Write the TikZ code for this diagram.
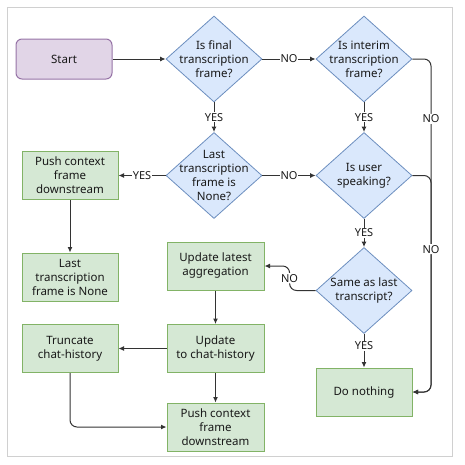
\documentclass[tikz,border=0pt]{standalone}
\usepackage{fontspec}
\setmainfont{Noto Sans}
\usetikzlibrary{arrows.meta,shapes.geometric}
\definecolor{bfill}{HTML}{DAE8FC}
\definecolor{bdraw}{HTML}{6C8EBF}
\definecolor{gfill}{HTML}{D5E8D4}
\definecolor{gdraw}{HTML}{82B366}
\definecolor{pfill}{HTML}{E1D5E7}
\definecolor{pdraw}{HTML}{9673A6}
\definecolor{edgec}{HTML}{333333}
\definecolor{frame}{HTML}{D0D0D0}
\begin{document}
\begin{tikzpicture}[x=1pt,y=-1pt,
 every node/.style={font=\fontsize{11.5}{14}\selectfont, text=black!90},
 dia/.style={diamond, draw=bdraw, fill=bfill, minimum width=96pt, minimum height=86pt, inner sep=0pt, line width=0.8pt},
 dtext/.style={align=center, inner sep=0pt},
 box/.style={rectangle, draw=gdraw, fill=gfill, line width=1pt, minimum width=96pt, minimum height=48pt, align=center, inner sep=2pt},
 startbox/.style={rectangle, rounded corners=6pt, draw=pdraw, fill=pfill, line width=1pt, minimum width=96pt, minimum height=40pt},
 arr/.style={draw=edgec, line width=1pt, -{Latex[length=5.5pt,width=5pt]}},
 lab/.style={fill=white, inner sep=1pt, font=\fontsize{11}{12}\selectfont}
]
\useasboundingbox (0,0) rectangle (465,464);
\draw[frame, line width=1pt] (7,7) rectangle (452.5,456.5);

\node[startbox] (start) at (64,59) {Start};
\node[dia] (d1) at (214,59) {};
\node[dtext] (d1t) at (d1) {Is final\\transcription\\frame?};
\node[dia] (d2) at (364,59) {};
\node[dtext] (d2t) at (d2) {Is interim\\transcription\\frame?};
\node[dia] (d3) at (214,175.5) {};
\node[dtext] (d3t) at (d3) {Last\\transcription\\frame is\\None?};
\node[dia] (d4) at (364,175.5) {};
\node[dtext] (d4t) at (d4) {Is user\\speaking?};
\node[dia] (d5) at (364,290.5) {};
\node[dtext] (d5t) at (d5) {Same as last\\transcript?};

\node[box] (pushA) at (70,175.5) {Push context\\frame\\downstream};
\node[box] (lastnone) at (70,277) {Last\\transcription\\frame is None};
\node[box] (truncate) at (70,348.5) {Truncate\\chat-history};
\node[box, minimum width=97pt] (updlat) at (215.5,266) {Update latest\\aggregation};
\node[box, minimum width=97pt] (updchat) at (215.5,348.5) {Update\\to chat-history};
\node[box, minimum width=97pt] (pushB) at (215.5,427) {Push context\\frame\\downstream};
\node[box] (nothing) at (364,392) {Do nothing};

\coordinate (rx) at (431,0);

\draw[arr] (start) -- (d1);
\draw[arr] (d1) -- node[lab]{NO} (d2);
\draw[arr] (d1) -- node[lab]{YES} (d3);
\draw[arr] (d2) -- node[lab]{YES} (d4);
\draw[arr] (d3) -- node[lab]{NO} (d4);
\draw[arr] (d3) -- node[lab]{YES} (pushA);
\draw[arr] (d4) -- node[lab]{YES} (d5);
\draw[arr] (d5) -- node[lab, pos=0.35]{YES} (nothing);
\draw[arr] (pushA) -- (lastnone);
\draw[arr] (updlat) -- (updchat);
\draw[arr] (updchat) -- (truncate);
\draw[arr] (updchat) -- (pushB);
\draw[arr, rounded corners=7pt] (truncate.south) |- (pushB.west);
\draw[arr, rounded corners=7pt] (d5.west) -- ++(-26,0) |- node[lab, pos=0.25]{NO} (updlat.east);
\draw[arr, rounded corners=7pt] (d2.east) -- (d2.east -| rx) -- node[lab, pos=0.18]{NO} (rx |- nothing.east) -- (nothing.east);
\draw[arr, rounded corners=7pt] (d4.east) -- (d4.east -| rx) -- node[lab, pos=0.34]{NO} (rx |- nothing.east) -- (nothing.east);
\end{tikzpicture}
\end{document}
